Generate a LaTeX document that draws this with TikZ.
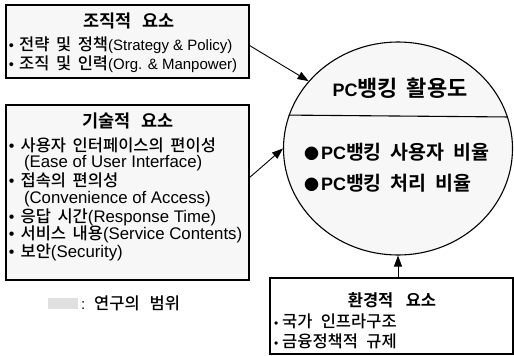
\documentclass[tikz,border=0pt]{standalone}
\usepackage{fontspec}
\setmainfont{Liberation Sans}
\newfontfamily\krf{Noto Sans CJK KR Medium}[BoldFont={Noto Sans CJK KR Bold}]
\usetikzlibrary{arrows.meta,shapes.geometric}
\newcommand\KR[3][0.4]{{\krf\fontsize{#2}{#2}\selectfont\spaceskip=#1em\relax #3}}
\newcommand\KRB[3]{{\krf\bfseries\fontsize{#1}{#1}\selectfont\spaceskip=#2em\relax #3}}
\newcommand\LT[1]{\fontsize{#1}{#1}\selectfont}
\newcommand\bul[1]{{\LT{#1}\textbullet}}
\begin{document}
\begin{tikzpicture}[x=1pt,y=-1pt,
  boxst/.style={draw=black, line width=1.1pt, fill=black!3, rectangle, inner sep=0pt},
  txt/.style={inner sep=0pt, outer sep=0pt},
  arr/.style={line width=0.9pt, -{Triangle[length=11pt,width=8pt]}}]
\useasboundingbox (0,0) rectangle (514,356);
% boxes
\node[boxst, minimum width=243pt, minimum height=73pt] (box1) at (127.5,41.5) {};
\node[boxst, minimum width=243pt, minimum height=175pt] (box2) at (127.5,192.5) {};
\node[boxst, ellipse, minimum width=229pt, minimum height=213pt] (circ) at (398,148.5) {};
\node[boxst, fill=white, minimum width=243pt, minimum height=76pt] (env) at (391.5,316) {};
\node[fill=black!12, minimum width=30pt, minimum height=11pt, inner sep=0pt] (swatch) at (63,303) {};
% chord
\draw[line width=1.1pt] (circ.163.94) -- (circ.16.06);
% box1 text
\node[txt] (t1) at (129,21) {\KRB{17.5}{0.65}{조직적 요소}};
\node[txt, anchor=west] (t1a) at (9,45) {\bul{14.5}\hspace{5pt}\KR{16.5}{전략 및 정책}\LT{15}(Strategy \& Policy)};
\node[txt, anchor=west] (t1b) at (9,64) {\bul{14.5}\hspace{5pt}\KR{16.5}{조직 및 인력}\LT{15}(Org. \& Manpower)};
% box2 text
\node[txt] (t2) at (128,121) {\KRB{17.5}{0.65}{기술적 요소}};
\node[txt, anchor=west] (t2a) at (9,145) {\bul{16}\hspace{6pt}\KR{16.5}{사용자 인터페이스의 편이성}};
\node[txt, anchor=west] (t2b) at (24,163) {\LT{16.8}(Ease of User Interface)};
\node[txt, anchor=west] (t2c) at (9,180) {\bul{16}\hspace{6pt}\KR{16.5}{접속의 편의성}};
\node[txt, anchor=west] (t2d) at (24,199) {\LT{16.8}(Convenience of Access)};
\node[txt, anchor=west] (t2e) at (9,217) {\bul{16}\hspace{6pt}\KR{16.5}{응답 시간}\LT{16.8}(Response Time)};
\node[txt, anchor=west] (t2f) at (9,234) {\bul{16}\hspace{6pt}\KR{16.5}{서비스 내용}\LT{16.8}(Service Contents)};
\node[txt, anchor=west] (t2g) at (9,252) {\bul{16}\hspace{6pt}\KR{16.5}{보안}\LT{16.8}(Security)};
% circle text
\node[txt] (ct) at (400,88) {\bfseries\LT{18}PC\KRB{22}{0.4}{뱅킹 활용도}};
\node[txt, anchor=west] (cb1) at (304,152) {\KR{15}{●}\hspace{2pt}\bfseries\LT{18}PC\KRB{19.5}{0.45}{뱅킹 사용자 비율}};
\node[txt, anchor=west] (cb2) at (304,183) {\KR{15}{●}\hspace{2pt}\bfseries\LT{18}PC\KRB{19.5}{0.45}{뱅킹 처리 비율}};
% env text
\node[txt] (et) at (392,300) {\KRB{16.5}{0.75}{환경적 요소}};
\node[txt, anchor=west] (ea) at (274,321) {\bul{12}\hspace{4pt}\KR[0.5]{16.5}{국가 인프라구조}};
\node[txt, anchor=west] (eb) at (274,341) {\bul{12}\hspace{4pt}\KR[0.5]{16.5}{금융정책적 규제}};
% legend
\node[txt, anchor=west] (leg) at (81,303) {\LT{15}:\hspace{9pt}\KR[0.6]{16.5}{연구의 범위}};
% arrows
\draw[arr] ([yshift=-4pt]box1.east) -- (circ.143);
\draw[arr] ([yshift=15pt]box2.east) -- (circ.west);
\draw[arr] (env.north -| circ.south) -- (circ.south);
\end{tikzpicture}
\end{document}
